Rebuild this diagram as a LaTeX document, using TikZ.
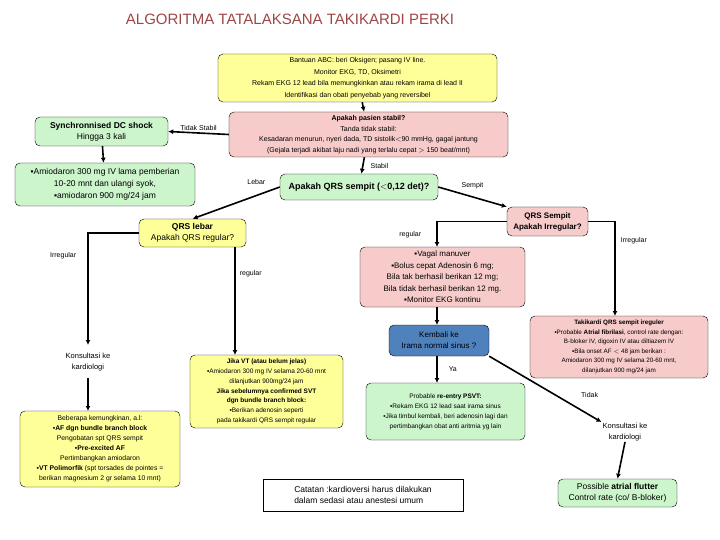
\documentclass[tikz,border=0pt]{standalone}
\usepackage{fontspec}
\setmainfont{Liberation Sans}
\usetikzlibrary{arrows.meta}
\definecolor{yel}{HTML}{FFFF99}
\definecolor{pnk}{HTML}{F8CBCB}
\definecolor{grn}{HTML}{CCF5CC}
\definecolor{blu}{HTML}{4F81BD}
\definecolor{ttl}{HTML}{A04545}
\tikzset{
 box/.style={draw=black,rounded corners=5pt,inner sep=1pt,align=center},
 yb/.style={box,fill=yel},
 pb/.style={box,fill=pnk},
 gb/.style={box,fill=grn},
 lbl/.style={font=\fontsize{7}{9}\selectfont,inner sep=1pt},
 arr/.style={-{Latex[length=5pt,width=5pt]},line width=1.6pt},
}
\begin{document}
\begin{tikzpicture}[x=1pt,y=1pt]
\useasboundingbox (0,0) rectangle (720,-540);
\node[text=ttl,font=\fontsize{15}{17}\selectfont] (title) at (290,-19) {ALGORITMA TATALAKSANA TAKIKARDI PERKI};

\node[yb,minimum width=279,minimum height=48,font=\fontsize{7}{11.5}\selectfont] (top) at (357.5,-78)
 {Bantuan ABC: beri Oksigen; pasang IV line.\\Monitor EKG, TD, Oksimetri\\Rekam EKG 12 lead bila memungkinkan atau rekam irama di lead II\\Identifikasi dan obati penyebab yang reversibel};
\node[pb,minimum width=279,minimum height=45,font=\fontsize{7}{10.5}\selectfont] (stab) at (368.5,-134.5)
 {\textbf{Apakah pasien stabil?}\\Tanda tidak stabil:\\Kesadaran menurun, nyeri dada, TD sistolik$<$90 mmHg, gagal jantung\\(Gejala terjadi akibat laju nadi yang terlalu cepat $>$ 150 beat/mnt)};
\node[gb,minimum width=133,minimum height=29,font=\fontsize{8.5}{11}\selectfont] (dc) at (101.5,-131.5)
 {\textbf{Synchronnised DC shock}\\Hingga 3 kali};
\node[gb,minimum width=180,minimum height=43,font=\fontsize{8.5}{12}\selectfont] (amio) at (105,-184.5)
 {▪Amiodaron 300 mg IV lama pemberian\\10-20 mnt dan ulangi syok,\\▪amiodaron 900 mg/24 jam};
\node[gb,minimum width=158,minimum height=26,font=\fontsize{9}{11}\selectfont] (qrs) at (359,-187)
 {\textbf{Apakah QRS sempit ($<$0,12 det)?}};
\node[yb,minimum width=107,minimum height=28,font=\fontsize{8.5}{11}\selectfont] (lebar) at (192.5,-233)
 {\textbf{QRS lebar}\\Apakah QRS regular?};
\node[pb,minimum width=81,minimum height=29,font=\fontsize{8}{11}\selectfont] (semp) at (547.5,-221.5)
 {\textbf{QRS Sempit}\\\textbf{Apakah Irregular?}};
\node[pb,minimum width=165,minimum height=60,font=\fontsize{8}{11.5}\selectfont] (vagal) at (442.5,-277)
 {▪Vagal manuver\\▪Bolus cepat Adenosin 6 mg;\\Bila tak berhasil berikan 12 mg;\\Bila tidak berhasil berikan 12 mg.\\▪Monitor EKG kontinu};
\node[box,fill=blu,minimum width=100,minimum height=31,font=\fontsize{8}{11}\selectfont] (kemb) at (439,-340.5)
 {Kembali ke\\Irama normal sinus ?};
\node[gb,minimum width=159,minimum height=57,font=\fontsize{6.5}{10}\selectfont] (psvt) at (445.5,-411.5)
 {Probable \textbf{re-entry PSVT:}\\▪Rekam EKG 12 lead saat irama sinus\\▪Jika timbul kembali, beri adenosin lagi dan\\pertimbangkan obat anti aritmia yg lain};
\node[pb,minimum width=178,minimum height=62,font=\fontsize{6.3}{9.5}\selectfont] (taki) at (619,-347)
 {\textbf{Takikardi QRS sempit ireguler}\\▪Probable \textbf{Atrial fibrilasi}, control rate dengan:\\B-bloker IV, digoxin IV atau diltiazem IV\\▪Bila onset AF $<$ 48 jam berikan :\\Amiodaron 300 mg IV selama 20-60 mnt,\\dilanjutkan 900 mg/24 jam};
\node[lbl,font=\fontsize{7.5}{10.5}\selectfont,align=center] (konsR) at (625,-432) {Konsultasi ke\\kardiologi};
\node[gb,minimum width=119,minimum height=28,font=\fontsize{8.5}{11}\selectfont] (flut) at (617.5,-493)
 {Possible \textbf{atrial flutter}\\Control rate (co/ B-bloker)};
\node[draw,minimum width=200,minimum height=32,font=\fontsize{8.5}{11}\selectfont,align=left] (cat) at (363,-495)
 {Catatan :kardioversi harus dilakukan\\dalam sedasi atau anestesi umum};
\node[lbl,font=\fontsize{7.5}{10.5}\selectfont,align=center] (konsL) at (88,-362) {Konsultasi ke\\kardiologi};
\node[yb,minimum width=160,minimum height=76,font=\fontsize{6.8}{10}\selectfont] (left) at (100,-449)
 {Beberapa kemungkinan, a.l:\\\textbf{▪AF dgn bundle branch block}\\Pengobatan spt QRS sempit\\\textbf{▪Pre-excited AF}\\Pertimbangkan amiodaron\\\textbf{▪VT Polimorfik} (spt torsades de pointes =\\berikan magnesium 2 gr selama 10 mnt)};
\node[yb,minimum width=153,minimum height=73,font=\fontsize{6.5}{9.8}\selectfont] (mid) at (266.5,-391.5)
 {\textbf{Jika VT (atau belum jelas)}\\▪Amiodaron 300 mg IV selama 20-60 mnt\\dilanjutkan 900mg/24 jam\\\textbf{Jika sebelumnya confirmed SVT}\\\textbf{dgn bundle branch block:}\\▪Berikan adenosin seperti\\pada takikardi QRS sempit regular};

% arrows
\coordinate (lc) at (88,-345);
\coordinate (lt) at (88,-378);
\coordinate (lb) at (88,-411);
\draw[arr] (top) -- (stab);
\draw[arr] (stab.west) -- (dc.east) node[lbl,midway,above=1pt] {Tidak Stabil};
\draw[arr] (dc) -- (amio);
\draw[arr] (stab) -- (qrs) node[lbl,midway,right=6pt] {Stabil};
\draw[arr] (qrs.west) -- (lebar.north) node[lbl,pos=0.1,above left=4pt] {Lebar};
\draw[arr] (qrs.east) -- (semp.north west) node[lbl,pos=0.5,above=6pt] {Sempit};
\draw[arr] (lebar.west) -| (lc) node[lbl,pos=0.6,left=10pt] {Irregular};
\draw[arr] (lt) -- (lb);
\draw[arr] (235,-247) -- (235,-355) node[lbl,pos=0.25,right=3pt] {regular};
\draw[arr] (semp.west) -| (437,-247) node[lbl,pos=0.75,left=14pt] {regular};
\draw[arr] (semp.east) -| (615,-316) node[lbl,pos=0.6,right=4pt] {Irregular};
\draw[arr] (437,-307) -- (437,-325);
\draw[arr] (437,-356) -- (437,-383) node[lbl,midway,right=10pt] {Ya};
\draw[arr] (kemb.south east) -- (konsR.north west) node[lbl,pos=0.75,above right=6pt] {Tidak};
\draw[arr] (konsR.south) -- (flut.north);
\end{tikzpicture}
\end{document}
